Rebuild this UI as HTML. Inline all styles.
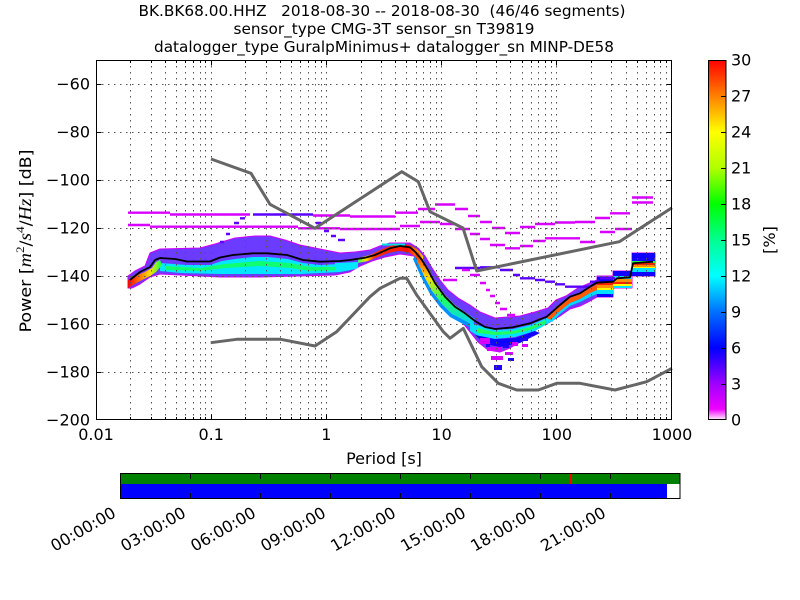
<!DOCTYPE html>
<html><head><meta charset="utf-8"><style>
html,body{margin:0;padding:0;background:#fff;}
svg{display:block;font-family:"DejaVu Sans","Liberation Sans",sans-serif;}
</style></head><body>
<svg width="800" height="600" viewBox="0 0 800 600" xmlns="http://www.w3.org/2000/svg">
<defs>
<linearGradient id="cb" x1="0" y1="1" x2="0" y2="0">
<stop offset="0" stop-color="#fff6ff"/><stop offset="0.03" stop-color="#f000ff"/><stop offset="0.1" stop-color="#a000ff"/>
<stop offset="0.2" stop-color="#0000ff"/><stop offset="0.3" stop-color="#0070ff"/><stop offset="0.4" stop-color="#00ffff"/>
<stop offset="0.5" stop-color="#00ff90"/><stop offset="0.6" stop-color="#00ff00"/><stop offset="0.7" stop-color="#b0ff00"/>
<stop offset="0.8" stop-color="#ffff00"/><stop offset="0.9" stop-color="#ff8000"/><stop offset="1" stop-color="#ff0000"/>
</linearGradient>
<linearGradient id="gA" gradientUnits="userSpaceOnUse" x1="128" y1="0" x2="160" y2="0">
<stop offset="0" stop-color="#ff0000"/><stop offset="0.35" stop-color="#ff7000"/><stop offset="0.7" stop-color="#ffe000"/><stop offset="1" stop-color="#30ff40"/>
</linearGradient>
<linearGradient id="gC" gradientUnits="userSpaceOnUse" x1="358" y1="0" x2="424" y2="0">
<stop offset="0" stop-color="#30ff60"/><stop offset="0.12" stop-color="#ffe000"/><stop offset="0.25" stop-color="#ff3000"/><stop offset="0.75" stop-color="#ff1000"/><stop offset="0.9" stop-color="#ff8000"/><stop offset="1" stop-color="#ffe000"/>
</linearGradient>
<linearGradient id="gD" gradientUnits="userSpaceOnUse" x1="0" y1="252" x2="0" y2="325">
<stop offset="0" stop-color="#ff2000"/><stop offset="0.35" stop-color="#ffe000"/><stop offset="0.65" stop-color="#20ff60"/><stop offset="1" stop-color="#00d0ff"/>
</linearGradient>
</defs>

<!-- histogram envelope -->
<polygon fill="#4a10ff" fill-opacity="0.82" stroke="#d000ff" stroke-width="1" stroke-linejoin="round" points="128,276 135,271 145,266 150,253 160,249 200,248 215,244 235,238 255,236 270,236 285,240 300,245 320,249 340,253 355,252 370,250 380,246 390,243 410,243 418,248 425,256 432,268 440,280 448,290 458,298 470,305 480,312 495,318 520,316 535,312 548,308 556,300 566,296 578,288 597,280 597,276 613,276 613,271 632,271 632,253 655,253 655,276 632,276 632,288 613,288 613,297 597,297 590,301 580,306 570,309 560,316 550,322 540,327 530,334 520,342 510,348 500,352 488,350 478,342 470,332 462,322 452,312 442,302 434,290 427,276 421,264 414,256 400,254 385,257 372,261 360,266 350,272 335,275 300,276 260,277 220,277 180,275 160,274 150,277 140,284 132,288 128,288"/>
<!-- region B -->
<polygon fill="#00e8ff" points="160,263 187,265 210,265 222,261 235,259 253,257 268,257 288,259 303,263 320,265 340,264 356,262 356,269 340,272 300,274 260,274 220,274 180,273 160,271"/>
<polygon fill="#10ff70" points="165,266 200,268 225,264 260,261 290,263 310,267 340,267 350,266 350,270 310,271 290,268 260,266 225,268 200,271 165,270"/>
<!-- region A -->
<polygon fill="url(#gA)" points="128,280 135,276 145,272 152,268 156,262 160,260 162,265 156,272 150,276 140,281 133,285 128,288"/>
<!-- region C -->
<polygon fill="#00e8ff" points="335,263 358,262 358,268 345,271 335,271"/>
<polygon fill="url(#gC)" points="358,258 370,255 380,250 390,246 400,244 410,245 417,249 423,256 424,262 416,257 408,252 398,251 388,253 378,257 368,261 358,263"/>
<path d="M382 244.5H405" stroke="#00e0e0" stroke-width="2"/>
<!-- region D -->
<polygon fill="url(#gD)" points="418,252 422,258 428,268 435,281 445,295 455,305 465,312 475,319 473,325 463,320 452,314 442,304 432,291 425,278 419,265 415,256"/>
<polygon fill="#0090ff" points="415,256 419,265 425,278 432,291 442,304 452,314 463,320 473,325 471,328 461,323 450,317 440,307 430,294 423,281 417,268 413,259"/>
<!-- region E -->
<polygon fill="#00e0ff" points="470,322 480,326 495,330 513,329 530,325 547,318 555,311 552,321 535,331 515,337 495,339 480,337 470,331"/>
<polygon fill="#20ff60" points="478,328 495,332 513,331 530,327 545,320 545,324 530,330 513,334 495,335 478,333"/>
<polygon fill="#1000ff" points="475,335 495,339 515,338 535,331 540,333 520,343 500,347 485,344"/>
<!-- region F -->
<polygon fill="#ff5a00" points="547,318 560,306 570,298 580,294 590,288 597,284 597,290 590,293 580,299 570,303 560,311 550,320"/>
<polygon fill="#00d8ff" points="550,320 560,311 570,303 580,299 590,293 597,290 597,294 590,297 580,302 570,306 560,314 552,322"/>
<!-- steps -->
<rect x="597" y="277" width="16" height="5" fill="#1000ff"/>
<rect x="597" y="282" width="16" height="3" fill="#ff2000"/>
<rect x="597" y="285" width="16" height="3" fill="#ff9000"/>
<rect x="597" y="288" width="16" height="2" fill="#ffff00"/>
<rect x="597" y="290" width="16" height="4" fill="#00e0ff"/>
<rect x="597" y="294" width="16" height="3" fill="#1000ff"/>
<rect x="613" y="271" width="19" height="5" fill="#1000ff"/>
<rect x="613" y="276" width="19" height="3" fill="#00e0ff"/>
<rect x="613" y="279" width="19" height="3" fill="#ff9000"/>
<rect x="613" y="282" width="19" height="2" fill="#ff2000"/>
<rect x="613" y="284" width="19" height="2" fill="#ffff00"/>
<rect x="613" y="286" width="19" height="2" fill="#00e0ff"/>
<rect x="632" y="253" width="23" height="8" fill="#1000ff"/>
<rect x="632" y="261" width="23" height="2" fill="#20ff40"/>
<rect x="632" y="263" width="23" height="2" fill="#ff2000"/>
<rect x="632" y="265" width="23" height="2" fill="#ff9000"/>
<rect x="632" y="267" width="23" height="1" fill="#ffff00"/>
<rect x="632" y="268" width="23" height="4" fill="#00e0ff"/>
<rect x="632" y="272" width="23" height="4" fill="#1000ff"/>

<!-- outlier tracks -->
<path fill="none" stroke="#d800ff" stroke-width="2.4" d="M128 212.7H170M170 214.5H250M313 215.5H350M350 216.5H395M395 212.7H418M418 209H435M435 204.5H455M455 209H468M468 216H480M480 222H492M492 228H505M505 233H520M520 227H535M535 224H555M555 222.5H575M575 222H595M595 218H610M610 213.3H630M632 197.5H653M632 202.5H653"/>
<path fill="none" stroke="#d800ff" stroke-width="2.4" d="M128 225H150M150 226.7H298M298 228.3H340M340 229H400M400 226H420M420 222H440M440 224H455M455 229H470M470 234H480M480 239H490M490 245H505M505 248.3H520M520 246H533M533 241H545M545 238.3H580M580 242H595M600 232H615M615 229H632"/>
<path fill="none" stroke="#5a00ff" stroke-width="2.4" d="M253 214.5H313M455 268H480M480 267.3H500M500 270H513M513 275H520M520 278.3H535M535 280H545M545 281.7H555M555 284.3H565M565 286.7H590M590 281.7H600M600 278.3H615"/>
<path fill="none" stroke="#6000ff" stroke-width="2.4" d="M220 242H224M226 234H230M234 223H239M240 218.3H245M316 223H321M324 231H329M331 236H336M338 240H345"/>
<path fill="none" stroke="#d800ff" stroke-width="2.4" d="M443 280H457M462 270H470M470 275H480M480 283H486M486 290H490M490 296H495M495 303H500M500 309H507M507 315H515"/>
<g fill="#d800ff">
<rect x="480" y="338" width="10" height="6"/><rect x="487" y="347" width="14" height="4"/><rect x="491" y="356" width="12" height="4"/>
<rect x="505" y="352" width="8" height="3"/><rect x="512" y="342" width="6" height="4"/><rect x="522" y="344" width="6" height="3"/>
</g>
<g fill="#2000ff">
<rect x="494" y="365" width="8" height="5"/><rect x="503" y="345" width="6" height="3"/><rect x="508" y="358" width="6" height="3"/>
<rect x="520" y="338" width="8" height="3"/><rect x="486" y="344" width="4" height="3"/>
</g>

<!-- grid -->
<path fill="none" stroke="#555" stroke-width="1" stroke-dasharray="1.5 4.5" d="M130.5 60V420M151.5 60V420M165.5 60V420M176.5 60V420M185.5 60V420M193.5 60V420M200.5 60V420M205.5 60V420M211.5 60V420M245.5 60V420M266.5 60V420M280.5 60V420M291.5 60V420M300.5 60V420M308.5 60V420M315.5 60V420M321.5 60V420M326.5 60V420M361.5 60V420M381.5 60V420M395.5 60V420M406.5 60V420M416.5 60V420M423.5 60V420M430.5 60V420M436.5 60V420M441.5 60V420M476.5 60V420M496.5 60V420M510.5 60V420M522.5 60V420M531.5 60V420M538.5 60V420M545.5 60V420M551.5 60V420M556.5 60V420M591.5 60V420M611.5 60V420M626.5 60V420M637.5 60V420M646.5 60V420M654.5 60V420M660.5 60V420M666.5 60V420M96 84.5H672M96 132.5H672M96 180.5H672M96 228.5H672M96 276.5H672M96 324.5H672M96 372.5H672"/>

<!-- mean line -->
<polyline fill="none" stroke="#000" stroke-width="1.8" stroke-linejoin="round" points="130,280 140,272 150,267 155,260 160,258 175,259 187,261.5 210,261.5 220,257.5 233,255 253,253.3 267,253.3 287,255 303,260 320,261.7 340,261 350,260 365,257.7 375,255 390,248.3 400,246 410,247.3 415,251.7 422,260 428,270 435,283 445,296.7 455,306.7 465,313.3 475,321 485,327 495,329 513,327.3 530,323.3 546.7,316.7 560,305 570,296.7 580,293.3 590,286.7 596.7,282.7 613,281.7 617,278.3 630,277.3 633,263.3 653,261.7"/>

<!-- noise models -->
<polyline fill="none" stroke="#666" stroke-width="3" stroke-linejoin="round" points="211,159 251,173.3 270,204.3 315,228.3 401.7,171.7 418.3,181.7 430,211.7 463,228 476.7,271 619.3,241.7 672,207.7"/>
<polyline fill="none" stroke="#666" stroke-width="3" stroke-linejoin="round" points="210.7,342.7 236.7,339.3 280.7,339.3 315,346 336.7,331.7 370,296.7 380,288.3 400,278.3 406.7,278.3 416.7,295 443.3,331.7 450,338.3 463.3,328.3 481.7,366.7 498.3,383.3 516.7,390 538.3,390 556.7,383.3 580,383.3 615,390 646.7,381.7 672,368.3"/>

<!-- axes frame and ticks -->
<rect x="96.5" y="60.5" width="575" height="359" fill="none" stroke="#000" stroke-width="1"/>
<path fill="none" stroke="#000" stroke-width="1" d="M96 84.5h5.5M96 132.5h5.5M96 180.5h5.5M96 228.5h5.5M96 276.5h5.5M96 324.5h5.5M96 372.5h5.5M672 84.5h-5.5M672 132.5h-5.5M672 180.5h-5.5M672 228.5h-5.5M672 276.5h-5.5M672 324.5h-5.5M672 372.5h-5.5M211.5 420v-5.5M326.5 420v-5.5M441.5 420v-5.5M556.5 420v-5.5M211.5 60v5.5M326.5 60v5.5M441.5 60v5.5M556.5 60v5.5"/>
<path fill="none" stroke="#000" stroke-width="1" d="M130.5 420v-3M151.5 420v-3M165.5 420v-3M176.5 420v-3M185.5 420v-3M193.5 420v-3M200.5 420v-3M205.5 420v-3M245.5 420v-3M266.5 420v-3M280.5 420v-3M291.5 420v-3M300.5 420v-3M308.5 420v-3M315.5 420v-3M321.5 420v-3M361.5 420v-3M381.5 420v-3M395.5 420v-3M406.5 420v-3M416.5 420v-3M423.5 420v-3M430.5 420v-3M436.5 420v-3M476.5 420v-3M496.5 420v-3M510.5 420v-3M522.5 420v-3M531.5 420v-3M538.5 420v-3M545.5 420v-3M551.5 420v-3M591.5 420v-3M611.5 420v-3M626.5 420v-3M637.5 420v-3M646.5 420v-3M654.5 420v-3M660.5 420v-3M666.5 420v-3M130.5 60v3M151.5 60v3M165.5 60v3M176.5 60v3M185.5 60v3M193.5 60v3M200.5 60v3M205.5 60v3M245.5 60v3M266.5 60v3M280.5 60v3M291.5 60v3M300.5 60v3M308.5 60v3M315.5 60v3M321.5 60v3M361.5 60v3M381.5 60v3M395.5 60v3M406.5 60v3M416.5 60v3M423.5 60v3M430.5 60v3M436.5 60v3M476.5 60v3M496.5 60v3M510.5 60v3M522.5 60v3M531.5 60v3M538.5 60v3M545.5 60v3M551.5 60v3M591.5 60v3M611.5 60v3M626.5 60v3M637.5 60v3M646.5 60v3M654.5 60v3M660.5 60v3M666.5 60v3"/>

<!-- tick labels -->
<g font-size="16" fill="#000" text-anchor="end">
<text x="90" y="89.5">−60</text><text x="90" y="137.5">−80</text><text x="90" y="185.5">−100</text><text x="90" y="233.5">−120</text>
<text x="90" y="281.5">−140</text><text x="90" y="329.5">−160</text><text x="90" y="377.5">−180</text><text x="90" y="425.5">−200</text>
</g>
<g font-size="16" fill="#000" text-anchor="middle">
<text x="96" y="440">0.01</text><text x="211.2" y="440">0.1</text><text x="326.4" y="440">1</text>
<text x="441.6" y="440">10</text><text x="556.8" y="440">100</text><text x="672" y="440">1000</text>
<text x="384" y="464">Period [s]</text>
</g>

<!-- title -->
<g font-size="15" fill="#000" text-anchor="middle">
<text x="382" y="16" textLength="487" lengthAdjust="spacingAndGlyphs">BK.BK68.00.HHZ&#160;&#160;&#160;2018-08-30 -- 2018-08-30&#160;&#160;(46/46 segments)</text>
<text x="384" y="34" textLength="301" lengthAdjust="spacingAndGlyphs">sensor_type CMG-3T sensor_sn T39819</text>
<text x="384" y="52" textLength="460" lengthAdjust="spacingAndGlyphs">datalogger_type GuralpMinimus+ datalogger_sn MINP-DE58</text>
</g>

<!-- y label -->
<text transform="translate(31,241) rotate(-90)" font-size="16" text-anchor="middle" textLength="183" lengthAdjust="spacingAndGlyphs">Power [<tspan font-family="Liberation Serif,serif" font-style="italic" font-size="18">m</tspan><tspan font-family="Liberation Serif,serif" font-size="12" dy="-7">2</tspan><tspan dy="7">/</tspan><tspan font-family="Liberation Serif,serif" font-style="italic" font-size="18">s</tspan><tspan font-family="Liberation Serif,serif" font-size="12" dy="-7">4</tspan><tspan dy="7">/</tspan><tspan font-family="Liberation Serif,serif" font-style="italic" font-size="18">Hz</tspan>] [dB]</text>

<!-- colorbar -->
<rect x="708" y="60" width="18" height="360" fill="url(#cb)"/>
<rect x="708.5" y="60.5" width="17.5" height="359" fill="none" stroke="#000" stroke-width="1"/>
<path fill="none" stroke="#000" stroke-width="1" d="M726 96.5h-5M726 132.5h-5M726 168.5h-5M726 204.5h-5M726 240.5h-5M726 276.5h-5M726 312.5h-5M726 348.5h-5M726 384.5h-5"/>
<g font-size="16" fill="#000">
<text x="731" y="65.5">30</text><text x="731" y="101.5">27</text><text x="731" y="137.5">24</text><text x="731" y="173.5">21</text>
<text x="731" y="209.5">18</text><text x="731" y="245.5">15</text><text x="731" y="281.5">12</text><text x="731" y="317.5">9</text>
<text x="731" y="353.5">6</text><text x="731" y="389.5">3</text><text x="731" y="425.5">0</text>
</g>
<text transform="translate(775,240) rotate(-90)" font-size="16" text-anchor="middle">[%]</text>

<!-- time coverage bar -->
<rect x="120" y="474" width="560" height="10" fill="#008000"/>
<rect x="120" y="484" width="547" height="14" fill="#0000ff"/>
<rect x="570" y="474" width="2" height="10" fill="#ff0000"/>
<rect x="120.5" y="473.5" width="559.5" height="25" fill="none" stroke="#000" stroke-width="1"/>
<path fill="none" stroke="#000" stroke-width="1" d="M190.5 474v5M260.5 474v5M330.5 474v5M400.5 474v5M470.5 474v5M540.5 474v5M610.5 474v5M190.5 498v-5M260.5 498v-5M330.5 498v-5M400.5 498v-5M470.5 498v-5M540.5 498v-5M610.5 498v-5"/>
<g font-size="16" fill="#000" text-anchor="end">
<text transform="translate(117,516) rotate(-30)">00:00:00</text>
<text transform="translate(187,516) rotate(-30)">03:00:00</text>
<text transform="translate(257,516) rotate(-30)">06:00:00</text>
<text transform="translate(327,516) rotate(-30)">09:00:00</text>
<text transform="translate(397,516) rotate(-30)">12:00:00</text>
<text transform="translate(467,516) rotate(-30)">15:00:00</text>
<text transform="translate(537,516) rotate(-30)">18:00:00</text>
<text transform="translate(607,516) rotate(-30)">21:00:00</text>
</g>
</svg>
</body></html>
